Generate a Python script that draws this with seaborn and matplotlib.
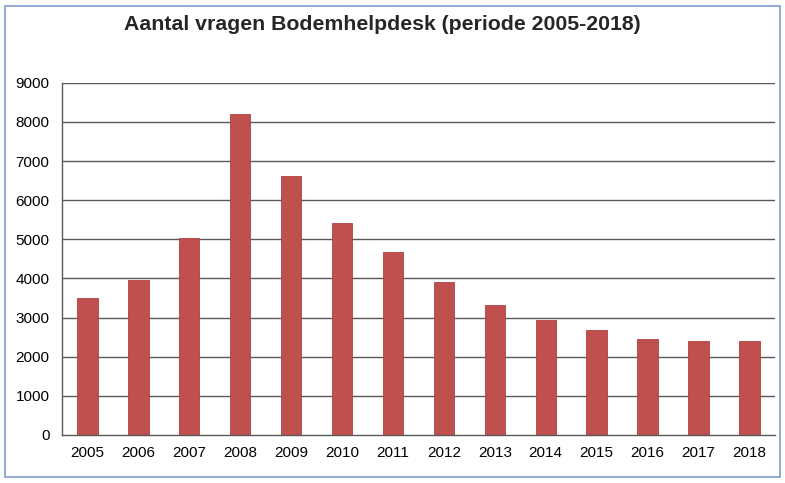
import numpy as np
import pandas as pd
import matplotlib
matplotlib.use('Agg')
import matplotlib.pyplot as plt
import seaborn as sns
from matplotlib.patches import Rectangle

# data
years = ['2005', '2006', '2007', '2008', '2009', '2010', '2011',
         '2012', '2013', '2014', '2015', '2016', '2017', '2018']
questions = [3490, 3970, 5040, 8200, 6620, 5420, 4680,
             3920, 3320, 2930, 2680, 2440, 2410, 2400]
y_ticks = [0, 1000, 2000, 3000, 4000, 5000, 6000, 7000, 8000, 9000]

df = pd.DataFrame({'jaar': years, 'aantal': questions})

sns.set_style('white')
plt.rcParams['font.family'] = ['Liberation Sans', 'DejaVu Sans']

fig = plt.figure(figsize=(7.85, 4.83), dpi=100)
ax = fig.add_axes([0.079, 0.0994, 0.908, 0.7293])

# horizontal gridlines behind bars
for t in y_ticks[1:]:
    ax.axhline(t, color='#595959', linewidth=1.0, zorder=0)

sns.barplot(data=df, x='jaar', y='aantal', color='#C0504D', width=0.4,
            saturation=1, edgecolor='#B0403D', linewidth=0.6, ax=ax, zorder=2)

ax.set_xlim(-0.5, len(years) - 0.5)
ax.set_ylim(0, 9000)
ax.set_yticks(y_ticks)
ax.set_yticklabels([str(t) for t in y_ticks])
ax.set_xlabel('')
ax.set_ylabel('')

# tick marks on category boundaries
ax.set_xticks(np.arange(-0.5, len(years), 1.0), minor=True)
ax.tick_params(axis='x', which='major', length=0, labelsize=11, pad=8, colors='black')
ax.tick_params(axis='x', which='minor', length=5, width=1, color='#595959', direction='out')
ax.tick_params(axis='y', which='major', length=5, width=1, color='#595959', direction='out',
               labelsize=11, pad=4, labelcolor='black')

for side in ['top', 'right']:
    ax.spines[side].set_visible(False)
for side in ['left', 'bottom']:
    ax.spines[side].set_color('#595959')
    ax.spines[side].set_linewidth(1.0)

fig.text(0.487, 0.949, 'Aantal vragen Bodemhelpdesk (periode 2005-2018)',
         ha='center', va='center', fontsize=15.3, fontweight='bold')

# outer frame of the chart
fig.patches.append(Rectangle((5 / 785, 6 / 483), 775 / 785, 471 / 483,
                             transform=fig.transFigure, fill=False,
                             edgecolor='#7F9CCB', linewidth=1.2))

fig.savefig('out.png', dpi=100)
